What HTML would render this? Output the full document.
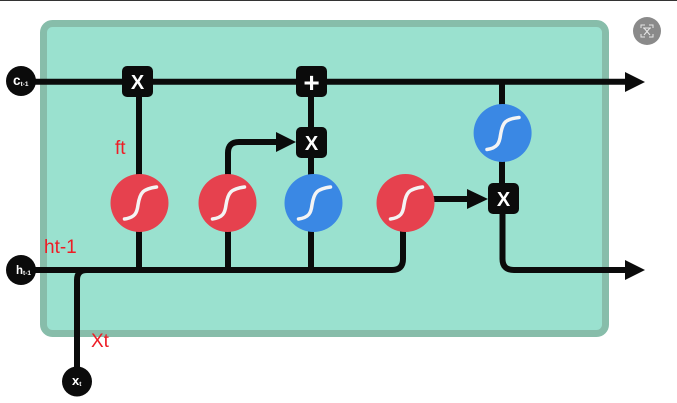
<!DOCTYPE html>
<html lang="en">
<head>
<meta charset="utf-8">
<title>LSTM cell diagram</title>
<style>
html,body{margin:0;padding:0;background:#fff;width:677px;height:403px;overflow:hidden}
svg{display:block}
.lab{font-family:"Liberation Sans",sans-serif;fill:#fff;font-weight:700}
.red{font-family:"Liberation Sans",sans-serif;fill:#ee1c25;font-size:19px}
.op{font-family:"Liberation Sans",sans-serif;fill:#fff;font-weight:700;font-size:20px;text-anchor:middle}
.plus{font-size:28px}
</style>
</head>
<body>
<svg width="677" height="403" viewBox="0 0 677 403" xmlns="http://www.w3.org/2000/svg">
<rect x="0" y="0" width="677" height="1" fill="#333"/>
<rect x="43.500" y="23.500" width="562" height="310" rx="9" fill="#9ae1cf" stroke="#87bdaa" stroke-width="7"/>

<g fill="none" stroke="#0b0b0b" stroke-width="6">
<path d="M30 81.700H628"/>
<path d="M139 82V190"/>
<path d="M311 82V190"/>
<path d="M502 82V190"/>
<path d="M30 270H392Q403 270 403 259V225"/>
<path d="M139 225V270"/>
<path d="M228 180V153Q228 142 239 142H280"/>
<path d="M228 225V270"/>
<path d="M311 225V270"/>
<path d="M77 375V280Q77 270 87 270"/>
<path d="M430 199H470"/>
<path d="M502.500 205V259Q502.500 270 514 270H628"/>
</g>
<g fill="#0b0b0b">
<path d="M625 72L645 82L625 92Z"/>
<path d="M625 260L645 270L625 280Z"/>
<path d="M276 132L296 142L276 152Z"/>
<path d="M467 189L488 199L467 209Z"/>
</g>

<circle cx="139.500" cy="203" r="29" fill="#e6414e"/>
<circle cx="227.500" cy="203" r="29" fill="#e6414e"/>
<circle cx="313.500" cy="203" r="29" fill="#3a88e4"/>
<circle cx="405.500" cy="203" r="29" fill="#e6414e"/>
<circle cx="502.600" cy="133" r="29" fill="#3a88e4"/>
<g fill="none" stroke="#f4f4f4" stroke-width="3.500" stroke-linecap="round">
<path d="M124.500 219C135 217.500 137 213 138 205C140 192 143 189 156.500 187"/>
<path d="M212.500 219C223 217.500 225 213 226 205C228 192 231 189 244.500 187"/>
<path d="M298.500 219C309 217.500 311 213 312 205C314 192 317 189 330.500 187"/>
<path d="M390.500 219C401 217.500 403 213 404 205C406 192 409 189 422.500 187"/>
<path d="M487 149.500C497.500 148 499.500 143 500.500 135C502.500 122 505.500 119 519 117.500"/>
</g>

<g fill="#0b0b0b">
<rect x="122" y="66" width="31" height="31" rx="5"/>
<rect x="296" y="66" width="31" height="31" rx="5"/>
<rect x="296" y="127" width="31" height="31" rx="5"/>
<rect x="488" y="183" width="31" height="31" rx="5"/>
<circle cx="21" cy="81" r="15"/>
<circle cx="21" cy="270" r="15"/>
<circle cx="77" cy="381.500" r="15"/>
</g>
<text class="op" x="137.500" y="89">X</text>
<text class="op plus" x="311.500" y="92">+</text>
<text class="op" x="311.500" y="150">X</text>
<text class="op" x="503.500" y="206">X</text>

<text class="lab" x="13" y="85" font-size="13.500">c<tspan font-size="6.500" dy="1">t-1</tspan></text>
<text class="lab" x="16" y="274" font-size="11.500">h<tspan font-size="6.500" dy="1">t-1</tspan></text>
<text class="lab" x="72" y="385" font-size="13">x<tspan font-size="6.500" dy="1">t</tspan></text>

<text class="red" x="115" y="154">ft</text>
<text class="red" x="44" y="253">ht-1</text>
<text class="red" x="91" y="347">Xt</text>

<circle cx="647" cy="31" r="14" fill="#8a8a8a"/>
<g fill="none" stroke="#e8e8e8" stroke-width="1">
<path d="M641 28V25H645M649 25H653V28M653 34V37H649M645 37H641V34"/>
<path d="M643 28H651M644 28L650 35M650 28L644 35"/>
</g>
</svg>
</body>
</html>
